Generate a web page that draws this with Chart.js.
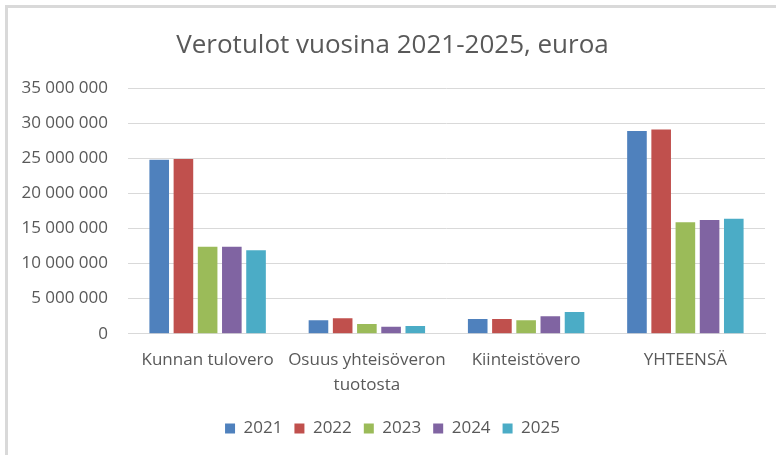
<!DOCTYPE html>
<html>
<head>
<meta charset="utf-8">
<script src="https://cdn.jsdelivr.net/npm/chart.js@4"></script>
<style>
  html, body { margin: 0; padding: 0; background: #fff; }
  #wrap { position: relative; width: 776px; height: 455px; overflow: hidden; }
  #frame {
    position: absolute; left: 5px; top: 5px; width: 900px; height: 600px;
    border-left: 3px solid #d9d9d9; border-top: 3px solid #d9d9d9;
    pointer-events: none;
  }
</style>
</head>
<body>
<div id="wrap">
  <canvas id="myChart" width="776" height="455"></canvas>
  <div id="frame"></div>
</div>
<script>
const categories = ['Kunnan tulovero', ['Osuus yhteisöveron', 'tuotosta'], 'Kiinteistövero', 'YHTEENSÄ'];
const years = ['2021', '2022', '2023', '2024', '2025'];
const v2021 = [24800000, 1900000, 2100000, 28900000];
const v2022 = [24900000, 2200000, 2100000, 29100000];
const v2023 = [12400000, 1400000, 1900000, 15900000];
const v2024 = [12400000, 1000000, 2500000, 16200000];
const v2025 = [11900000, 1100000, 3100000, 16400000];
const colors = ['#4f81bd', '#c0504d', '#9bbb59', '#8064a2', '#4bacc6'];

const font = "'Open Sans', 'Liberation Sans', sans-serif";
const grey = '#595959';

function fmt(v) {
    return String(v).replace(/\B(?=(\d{3})+(?!\d))/g, ' ');
}

const ctx = document.getElementById('myChart');

new Chart(ctx, {
    type: 'bar',
    data: {
        labels: categories,
        datasets: [v2021, v2022, v2023, v2024, v2025].map((d, i) => ({
            label: years[i],
            data: d,
            backgroundColor: colors[i],
            categoryPercentage: 0.76,
            barPercentage: 0.81,
        }))
    },
    options: {
        responsive: false,
        animation: false,
        layout: { padding: { left: 20, right: 11, top: 0, bottom: 8 } },
        plugins: {
            title: {
                display: true,
                text: 'Verotulot vuosina 2021-2025, euroa',
                color: grey,
                font: { family: font, size: 26, weight: 'normal' },
                padding: { top: 30, bottom: 27 }
            },
            legend: {
                position: 'bottom',
                labels: {
                    color: grey,
                    font: { family: font, size: 17 },
                    boxWidth: 10,
                    boxHeight: 10,
                    padding: 12
                }
            },
            tooltip: { enabled: false }
        },
        scales: {
            x: {
                grid: { display: false },
                border: { color: '#d9d9d9' },
                ticks: {
                    color: grey,
                    font: { family: font, size: 17, lineHeight: 1.45 },
                    maxRotation: 0,
                    autoSkip: false,
                    padding: 6
                },
                afterFit: s => { s.height += 5; }
            },
            y: {
                min: 0,
                max: 35000000,
                grid: { color: '#d9d9d9', drawTicks: false },
                border: { display: false },
                ticks: {
                    stepSize: 5000000,
                    color: grey,
                    font: { family: font, size: 17 },
                    padding: 20,
                    callback: v => fmt(v)
                },
                afterFit: s => { s.width = 108; }
            }
        }
    }
});
</script>
</body>
</html>
